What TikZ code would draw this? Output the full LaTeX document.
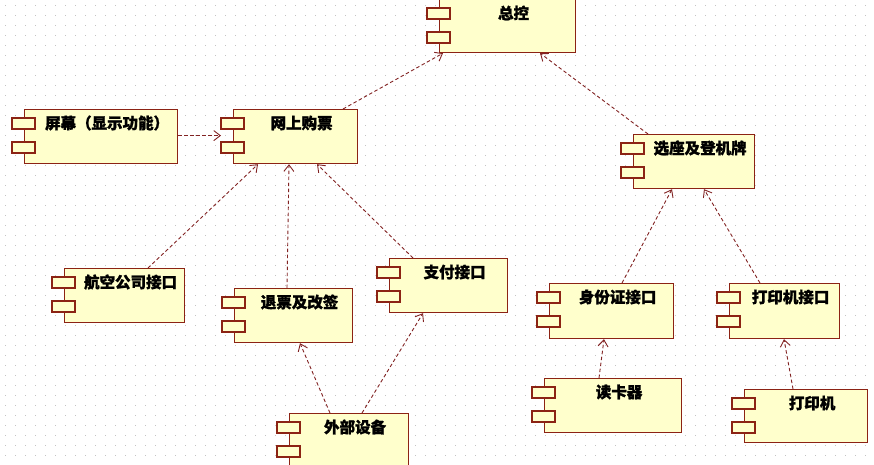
\documentclass[tikz,border=0pt]{standalone}
\usepackage{fontspec}
\newfontfamily\cjk{Noto Sans CJK SC}[BoldFeatures={FakeBold=1.2}]
\usetikzlibrary{arrows.meta}
\definecolor{boxfill}{RGB}{255,255,204}
\definecolor{boxline}{RGB}{140,35,20}
\definecolor{arrline}{RGB}{130,35,35}
\definecolor{griddot}{RGB}{195,195,195}
\tikzset{
  comp/.style={draw=boxline, fill=boxfill, line width=1.2pt, anchor=north west, inner sep=0pt},
  tab/.style={draw=boxline, fill=boxfill, line width=1.2pt},
  lbl/.style={font=\cjk\bfseries\fontsize{15.5pt}{15.5pt}\selectfont, inner sep=0pt, anchor=center},
  dep/.style={draw=arrline, line width=0.9pt, dash pattern=on 3.5pt off 2.5pt, -{Straight Barb[length=6.5pt,width=10pt]}}
}
\newcommand{\mycomp}[6]{%
  \node[comp, minimum width=#4pt, minimum height=#5pt] (#1) at (#2,#3) {};
  \draw[tab] ([xshift=-12pt,yshift=-9pt]#1.north west) rectangle ++(23pt,-11pt);
  \draw[tab] ([xshift=-12pt,yshift=-33pt]#1.north west) rectangle ++(23pt,-11pt);
  \node[lbl] (#1-t) at ([xshift=6pt,yshift=-14pt]#1.north) {#6};
}
\begin{document}
\begin{tikzpicture}[x=1pt,y=-1pt]
\path[use as bounding box, clip] (0,0) rectangle (874,464);
\fill[white] (0,0) rectangle (874,464);
\foreach \gx in {5,15,...,875}{
  \foreach \gy in {5,15,...,465}{
    \fill[griddot] (\gx,\gy) rectangle ++(1,1);
  }
}
\mycomp{zk}{439}{-1}{136}{53}{总控}
\mycomp{pm}{24}{109}{153}{54}{屏幕（显示功能）}
\mycomp{wsgp}{233}{109}{124}{54}{网上购票}
\mycomp{xz}{633}{134}{121}{54}{选座及登机牌}
\mycomp{hk}{64}{268}{120}{54}{航空公司接口}
\mycomp{tp}{234}{288}{118}{54}{退票及改签}
\mycomp{zf}{389}{258}{118}{54}{支付接口}
\mycomp{sfz}{549}{283}{124}{55}{身份证接口}
\mycomp{dyjk}{729}{283}{110}{55}{打印机接口}
\mycomp{wb}{289}{413}{119}{54}{外部设备}
\mycomp{dkq}{544}{378}{137}{54}{读卡器}
\mycomp{dyj}{744}{389}{123}{53}{打印机}

\draw[dep] ([xshift=110pt]wsgp.north west) -- ([xshift=4pt]zk.south west);
\draw[dep] ([xshift=15pt]xz.north west) -- ([xshift=101pt]zk.south west);
\draw[dep] ([yshift=1pt]pm.east) -- ([xshift=-12pt,yshift=1pt]wsgp.west);
\draw[dep] ([xshift=84pt]hk.north west) -- ([xshift=25pt]wsgp.south west);
\draw[dep] ([xshift=53pt]tp.north west) -- ([xshift=56pt]wsgp.south west);
\draw[dep] ([xshift=24pt]zf.north west) -- ([xshift=84pt]wsgp.south west);
\draw[dep] ([xshift=41pt]wb.north west) -- ([xshift=66pt]tp.south west);
\draw[dep] ([xshift=73pt]wb.north west) -- ([xshift=34pt]zf.south west);
\draw[dep] ([xshift=73pt]sfz.north west) -- ([xshift=39pt]xz.south west);
\draw[dep] ([xshift=31pt]dyjk.north west) -- ([xshift=71pt]xz.south west);
\draw[dep] ([xshift=55pt]dkq.north west) -- ([xshift=55pt]sfz.south west);
\draw[dep] ([xshift=49pt]dyj.north west) -- ([xshift=55pt]dyjk.south west);
\end{tikzpicture}
\end{document}
